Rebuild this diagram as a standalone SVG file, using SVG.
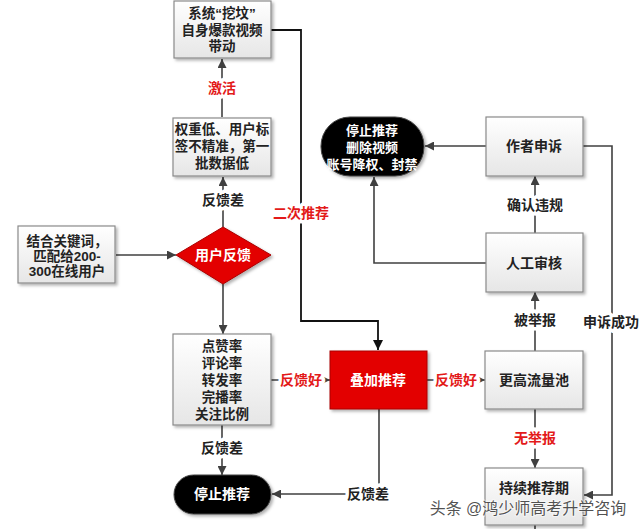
<svg xmlns="http://www.w3.org/2000/svg" width="640" height="529" viewBox="0 0 640 529">
<defs>
<linearGradient id="g" x1="0" y1="0" x2="0" y2="1">
<stop offset="0" stop-color="#ffffff"/>
<stop offset="1" stop-color="#e6e6e6"/>
</linearGradient>
<filter id="sh" x="-10%" y="-10%" width="130%" height="130%">
<feDropShadow dx="2" dy="2" stdDeviation="1.5" flood-color="#000" flood-opacity="0.3"/>
</filter>
<marker id="ar" viewBox="0 0 10 10" refX="10" refY="5" markerWidth="9" markerHeight="9" markerUnits="userSpaceOnUse" orient="auto">
<path d="M0,0 L10,5 L0,10 z" fill="#404040"/>
</marker>
<marker id="arb" viewBox="0 0 10 10" refX="10" refY="5" markerWidth="10" markerHeight="10" markerUnits="userSpaceOnUse" orient="auto">
<path d="M0,0 L10,5 L0,10 z" fill="#111"/>
</marker>
<style>
.box{fill:url(#g);stroke:#8a8a8a;stroke-width:1.2;filter:url(#sh)}
.blk{fill:#000;stroke:#444;stroke-width:1;filter:url(#sh)}
.red{fill:#e30000;stroke:#a00;stroke-width:1;filter:url(#sh)}
text{font-family:"Liberation Sans","Noto Sans CJK SC",sans-serif;font-weight:bold;font-size:14px;text-anchor:middle;dominant-baseline:central}
.m{font-size:13.5px}
.s{font-size:13px}
.t{fill:#222}
.w{fill:#fff}
.rl{fill:#e31a1a;paint-order:stroke;stroke:#fff;stroke-width:7px;stroke-linejoin:round}
.bl{fill:#222;paint-order:stroke;stroke:#fff;stroke-width:7px;stroke-linejoin:round}
.c{fill:none;stroke:#404040;stroke-width:1.6}
.cb{fill:none;stroke:#111;stroke-width:1.8}
</style>
</defs>

<g id="connectors">
<path class="c" d="M116,255 H176" marker-end="url(#ar)"/>
<path class="c" d="M223,227 V177" marker-end="url(#ar)"/>
<path class="c" d="M222,117 V59" marker-end="url(#ar)"/>
<path class="cb" d="M271,30 H301 V321 H378 V350" marker-end="url(#arb)"/>
<path class="c" d="M223,284 V334" marker-end="url(#ar)"/>
<path class="c" d="M271,380 H330" marker-end="url(#ar)"/>
<path class="c" d="M427,380 H485" marker-end="url(#ar)"/>
<path class="c" d="M222,425 V475" marker-end="url(#ar)"/>
<path class="c" d="M379,409 V494 H272" marker-end="url(#ar)"/>
<path class="c" d="M535,409 V468" marker-end="url(#ar)"/>
<path class="c" d="M535,351 V292" marker-end="url(#ar)"/>
<path class="c" d="M535,233 V176" marker-end="url(#ar)"/>
<path class="c" d="M486,146 H425" marker-end="url(#ar)"/>
<path class="c" d="M486,263 H374 V177" marker-end="url(#ar)"/>
<path class="c" d="M583,146 H612 V495 H584" marker-end="url(#ar)"/>
<path class="c" d="M535,525 V529"/>
<text class="bl" x="223" y="200">反馈差</text>
<text class="rl" x="222" y="88">激活</text>
<text class="rl" x="301" y="213">二次推荐</text>
<text class="rl" x="301" y="380">反馈好</text>
<text class="rl" x="456" y="380">反馈好</text>
<text class="bl" x="222" y="448">反馈差</text>
<text class="bl" x="368" y="494">反馈差</text>
<text class="rl" x="535" y="438">无举报</text>
<text class="bl" x="535" y="320">被举报</text>
<text class="bl" x="535" y="205">确认违规</text>
<text class="bl" x="611" y="322">申诉成功</text>
</g>

<g id="n-wafen">
<rect class="box" x="174" y="1" width="97" height="57"/>
<text class="t m"><tspan x="222" y="13">系统“挖坟”</tspan><tspan x="222" y="30">自身爆款视频</tspan><tspan x="222" y="46">带动</tspan></text>
</g>

<g id="n-quanzhong">
<rect class="box" x="173" y="118" width="98" height="58"/>
<text class="t m"><tspan x="222" y="129">权重低、用户标</tspan><tspan x="222" y="146">签不精准，第一</tspan><tspan x="222" y="163">批数据低</tspan></text>
</g>

<g id="n-jiehe">
<rect class="box" x="18" y="226" width="97" height="57"/>
<text class="t m"><tspan x="67" y="241">结合关键词，</tspan><tspan x="67" y="256">匹配给200-</tspan><tspan x="67" y="271">300在线用户</tspan></text>
</g>

<g id="n-feedback">
<polygon class="red" points="223,227 271,255 223,284 176,255"/>
<text class="w" x="223" y="255">用户反馈</text>
</g>

<g id="n-metrics">
<rect class="box" x="173" y="334" width="98" height="91"/>
<text class="t m"><tspan x="222" y="346">点赞率</tspan><tspan x="222" y="363">评论率</tspan><tspan x="222" y="380">转发率</tspan><tspan x="222" y="397">完播率</tspan><tspan x="222" y="414">关注比例</tspan></text>
</g>

<g id="n-stack">
<rect class="red" x="330" y="351" width="97" height="58"/>
<text class="w" x="378" y="380">叠加推荐</text>
</g>

<g id="n-pool">
<rect class="box" x="485" y="351" width="98" height="58"/>
<text class="t" x="534" y="380">更高流量池</text>
</g>

<g id="n-continue">
<rect class="box" x="485" y="468" width="98" height="57"/>
<text class="t" x="534" y="488">持续推荐期</text>
</g>

<g id="n-review">
<rect class="box" x="486" y="233" width="97" height="59"/>
<text class="t" x="534" y="263">人工审核</text>
</g>

<g id="n-appeal">
<rect class="box" x="486" y="117" width="97" height="59"/>
<text class="t" x="534" y="146">作者申诉</text>
</g>

<g id="n-ban">
<rect class="blk" x="321" y="117" width="103" height="59" rx="29" ry="29"/>
<text class="w s"><tspan x="372" y="130">停止推荐</tspan><tspan x="372" y="147">删除视频</tspan><tspan x="372" y="164">账号降权、封禁</tspan></text>
</g>

<g id="n-stop">
<rect class="blk" x="174" y="475" width="97" height="39" rx="19.5" ry="19.5"/>
<text class="w" x="222" y="494">停止推荐</text>
</g>

<text x="528" y="508" style="font-weight:normal;font-size:16px;fill:#333;fill-opacity:0.85;paint-order:stroke;stroke:#fff;stroke-opacity:0.5;stroke-width:2px">头条 @鸿少师高考升学咨询</text>
</svg>
